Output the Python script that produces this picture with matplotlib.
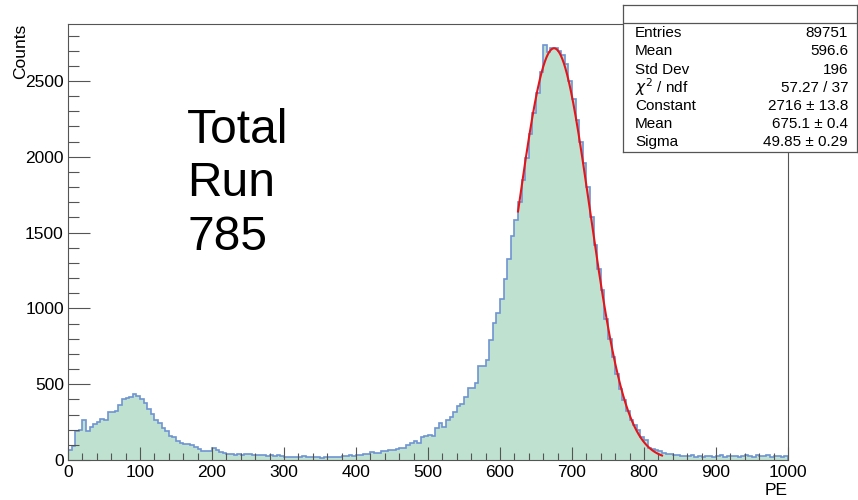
import numpy as np
import matplotlib
matplotlib.use('Agg')
import matplotlib.pyplot as plt
from matplotlib.ticker import MultipleLocator

plt.rcParams['font.family'] = ['Liberation Sans', 'DejaVu Sans']

# PE spectrum, 200 bins of 5 PE between 0 and 1000
pe_min, pe_max, n_bins = 0, 1000, 200
counts = [
    66, 95, 190, 200, 265, 190, 215, 240, 248, 270,
    262, 315, 318, 320, 362, 400, 412, 418, 438, 420,
    400, 375, 335, 305, 265, 245, 210, 190, 158, 150,
    128, 114, 108, 104, 100, 88, 72, 62, 60, 58,
    76, 66, 50, 46, 38, 38, 36, 40, 35, 37,
    38, 34, 36, 32, 30, 29, 31, 28, 30, 27,
    22, 20, 18, 22, 19, 24, 20, 18, 22, 21,
    16, 18, 20, 22, 19, 21, 24, 28, 30, 29,
    35, 33, 38, 42, 55, 44, 48, 57, 62, 66,
    68, 72, 78, 80, 99, 110, 125, 112, 150, 158,
    165, 160, 209, 246, 220, 264, 282, 315, 356, 367,
    418, 477, 477, 510, 620, 620, 660, 792, 906, 968,
    1063, 1192, 1324, 1478, 1584, 1705, 1848, 1990, 2150, 2290,
    2420, 2560, 2735, 2690, 2715, 2717, 2700, 2670, 2610, 2500,
    2380, 2240, 2100, 1960, 1800, 1600, 1420, 1260, 1120, 930,
    800, 680, 570, 470, 395, 320, 265, 230, 195, 150,
    130, 82, 75, 68, 58, 45, 40, 40, 35, 30,
    25, 28, 24, 30, 22, 26, 20, 24, 28, 22,
    25, 30, 21, 26, 24, 28, 20, 25, 30, 26,
    22, 32, 24, 28, 30, 22, 26, 24, 22, 25,
]

# gaussian fit result
fit_const, fit_mean, fit_sigma = 2716, 675.1, 49.85
fit_lo, fit_hi = 625, 825

stat_names = ['Entries', 'Mean', 'Std Dev', r'$\chi^{2}$ / ndf',
              'Constant', 'Mean', 'Sigma']
stat_values = ['89751', '596.6', '196', '57.27 / 37',
               '2716 \u00b1 13.8', '675.1 \u00b1 0.4', '49.85 \u00b1 0.29']

label_lines = ['Total', 'Run', '785']

fill_color = '#bfe1cf'
line_color = '#6f94d2'
fit_color = '#e3151b'
frame_color = '#555555'

W, H = 858, 500
fig = plt.figure(figsize=(W / 100, H / 100), dpi=100)
ax = fig.add_axes([68 / W, 40 / H, 720 / W, 436 / H])

edges = np.linspace(pe_min, pe_max, n_bins + 1)
ax.stairs(counts, edges, fill=True, color=fill_color, lw=0)
ax.stairs(counts, edges, color=line_color, lw=1.2)

xf = np.linspace(fit_lo, fit_hi, 400)
yf = fit_const * np.exp(-0.5 * ((xf - fit_mean) / fit_sigma) ** 2)
ax.plot(xf, yf, color=fit_color, lw=1.5)

ax.set_xlim(pe_min, pe_max)
ax.set_ylim(0, 2876)

ax.xaxis.set_major_locator(MultipleLocator(100))
ax.xaxis.set_minor_locator(MultipleLocator(20))
ax.yaxis.set_major_locator(MultipleLocator(500))
ax.yaxis.set_minor_locator(MultipleLocator(100))
ax.tick_params(which='both', direction='in', top=False, right=False,
               color=frame_color, width=0.8, labelsize=12.5)
ax.tick_params(axis='x', which='major', length=9.5, pad=3.5)
ax.tick_params(axis='x', which='minor', length=4.8)
ax.tick_params(axis='y', which='major', length=15.5, pad=3)
ax.tick_params(axis='y', which='minor', length=7.8)
for sp in ax.spines.values():
    sp.set_color(frame_color)
    sp.set_linewidth(0.8)

ax.set_xlabel('PE', loc='right', fontsize=12.5)
ax.xaxis.set_label_coords(1.0, -0.052)
ax.set_ylabel('Counts', loc='top', fontsize=12.5)
ax.yaxis.set_label_coords(-0.056, 1.0)

# big run label
for i, line in enumerate(label_lines):
    fig.text(187 / W, 1 - (143 + 53.5 * i) / H, line, fontsize=34.5,
             ha='left', va='baseline')

# stats box
box = fig.add_axes([623 / W, 1 - 152 / H, 234 / W, 147 / H])
box.set_xlim(0, 1)
box.set_ylim(0, 1)
box.set_xticks([])
box.set_yticks([])
box.set_facecolor('white')
for sp in box.spines.values():
    sp.set_color(frame_color)
    sp.set_linewidth(0.9)
box.axhline(1 - 18 / 147, color=frame_color, lw=0.9)
for i, (name, val) in enumerate(zip(stat_names, stat_values)):
    yy = 1 - (33.3 + 18.1 * i - 5) / 147
    box.text(0.051, yy, name, fontsize=11, ha='left', va='center')
    box.text(0.962, yy, val, fontsize=11, ha='right', va='center')

fig.savefig('out.png', dpi=100)
